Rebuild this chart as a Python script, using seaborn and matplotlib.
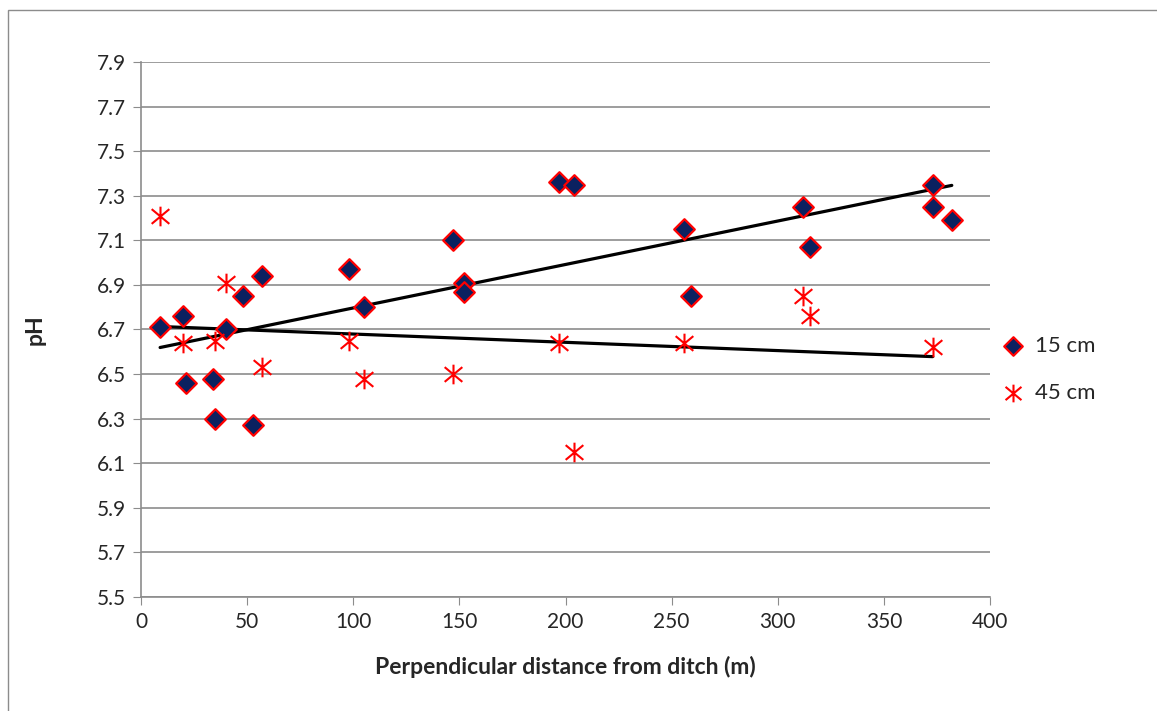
import matplotlib
matplotlib.use("Agg")
import matplotlib.pyplot as plt
from matplotlib.path import Path
import seaborn as sns
import pandas as pd

# 15 cm depth
dist_15 = [9, 20, 21, 34, 35, 40, 48, 53, 57, 98, 105, 147, 152, 152,
           197, 204, 256, 259, 312, 315, 373, 373, 382]
ph_15 = [6.71, 6.76, 6.46, 6.48, 6.30, 6.70, 6.85, 6.27, 6.94, 6.97, 6.80, 7.10, 6.91, 6.87,
         7.36, 7.35, 7.15, 6.85, 7.25, 7.07, 7.35, 7.25, 7.19]

# 45 cm depth
dist_45 = [9, 20, 35, 40, 57, 98, 105, 147, 197, 204, 256, 312, 315, 373]
ph_45 = [7.21, 6.64, 6.65, 6.91, 6.53, 6.65, 6.48, 6.50, 6.64, 6.15, 6.64, 6.85, 6.76, 6.62]

df15 = pd.DataFrame({'dist': dist_15, 'pH': ph_15})
df45 = pd.DataFrame({'dist': dist_45, 'pH': ph_45})

# excel style star: vertical bar + X
star = Path([(0, -1), (0, 1), (-0.9, -0.75), (0.9, 0.75), (-0.9, 0.75), (0.9, -0.75)],
            [Path.MOVETO, Path.LINETO, Path.MOVETO, Path.LINETO, Path.MOVETO, Path.LINETO])

sns.set_style('white')
plt.rcParams['font.family'] = ['Lato', 'DejaVu Sans']

fig = plt.figure(figsize=(11.57, 7.11), dpi=100)
ax = fig.add_axes([141/1157, 1 - 597/711, (990-141)/1157, (597-62)/711])

# outer chart frame
fig.patches.append(plt.Rectangle((8/1157, -0.05), 1.2, 1 - 10/711 + 0.05,
                                 transform=fig.transFigure, fill=False,
                                 edgecolor='#8c8c8c', linewidth=1))

sns.regplot(data=df15, x='dist', y='pH', ci=None, scatter=False, ax=ax,
            line_kws={'color': 'black', 'linewidth': 2.3})
sns.regplot(data=df45, x='dist', y='pH', ci=None, scatter=False, ax=ax,
            line_kws={'color': 'black', 'linewidth': 2.3})

sns.scatterplot(data=df15, x='dist', y='pH', marker='D', s=110, color='#0b2160',
                edgecolor='red', linewidth=1.6, ax=ax, label='15 cm', zorder=3)
ax.scatter(df45['dist'], df45['pH'], marker=star, s=200, color='red',
           linewidths=1.5, label='45 cm', zorder=3)

ax.set_xlim(0, 400)
ax.set_ylim(5.5, 7.9)
ax.set_xticks(range(0, 401, 50))
ax.set_yticks([5.5 + 0.2 * i for i in range(13)])
ax.set_yticklabels([f'{5.5 + 0.2 * i:.1f}' for i in range(13)])
ax.grid(axis='y', color='#8c8c8c', linewidth=1.2)
ax.set_axisbelow(True)
for s in ['top', 'right']:
    ax.spines[s].set_visible(False)
for s in ['left', 'bottom']:
    ax.spines[s].set_color('#8c8c8c')
    ax.spines[s].set_linewidth(1.2)
ax.tick_params(axis='both', labelsize=15, length=6, color='#8c8c8c',
               direction='out', left=True, bottom=True, pad=5)
ax.set_xlabel('Perpendicular distance from ditch (m)', fontsize=16.5, fontweight='bold')
ax.set_ylabel('pH', fontsize=16.5, fontweight='bold')
ax.xaxis.set_label_coords(0.5, (597 - 656) / 535)
ax.yaxis.set_label_coords((46 - 141) / 849, 0.5)

ax.legend(loc='center left', bbox_to_anchor=(0.985, 0.425), frameon=False,
          fontsize=16, handletextpad=0.3, handlelength=1.4, labelspacing=1.2,
          markerscale=0.9)

fig.savefig('out.png', dpi=100)
